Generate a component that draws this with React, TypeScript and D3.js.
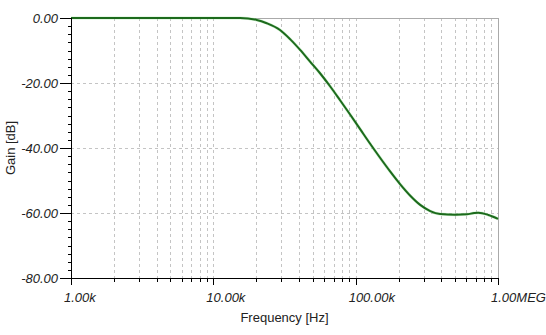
import React from "react";
import * as d3 from "d3";

const freqHz = [1000, 5000, 10000, 15400, 20200, 23700, 29400, 34600, 40700, 47800, 56200, 66100, 77700, 91400, 107500, 126400, 148400, 174600, 205000, 241000, 284000, 334000, 392000, 501000, 603000, 680000, 728000, 857000, 1000000];
const gainDb = [0, 0, 0, 0, -0.6, -1.6, -3.7, -6.5, -9.8, -13.4, -17.0, -21.0, -25.3, -29.7, -34.2, -38.7, -43.0, -47.2, -51.1, -54.6, -57.5, -59.4, -60.3, -60.5, -60.4, -60.0, -59.9, -60.6, -61.8];

const xTickValues = [1e3, 1e4, 1e5, 1e6];
const xTickLabels = ["1.00k", "10.00k", "100.00k", "1.00MEG"];
const yTickValues = [0, -20, -40, -60, -80];
const yTickLabels = ["0.00", "-20.00", "-40.00", "-60.00", "-80.00"];
const xTitle = "Frequency [Hz]";
const yTitle = "Gain [dB]";

const W = 546;
const H = 335;
const M = { left: 71, right: 498, top: 18, bottom: 278 };

export default function App() {
  const x = d3.scaleLog().domain([1e3, 1e6]).range([M.left, M.right]);
  const y = d3.scaleLinear().domain([-80, 0]).range([M.bottom, M.top]);

  const minorX: number[] = [];
  for (let d = 1e3; d < 1e6; d *= 10) {
    for (let k = 2; k <= 9; k++) minorX.push(d * k);
  }
  const minorY = d3.range(-80, 0.001, 2.5);

  const line = d3
    .line<number>()
    .x((_, i) => x(freqHz[i]))
    .y((d) => y(d))
    .curve(d3.curveMonotoneX);

  const font = "Arial, 'Liberation Sans', sans-serif";
  const grid = "#c4c4c4";

  return (
    <svg
      width={W}
      height={H}
      style={{ position: "absolute", left: 0, top: 0, background: "#fff" }}
    >
      <rect x={0} y={0} width={W} height={H} fill="#fff" />
      {/* vertical grid */}
      {[...minorX, 1e4, 1e5].map((v, i) => (
        <line
          key={"gx" + i}
          x1={Math.round(x(v)) + 0.5}
          x2={Math.round(x(v)) + 0.5}
          y1={M.top}
          y2={M.bottom}
          stroke={grid}
          strokeDasharray="3,3"
          strokeWidth={1}
        />
      ))}
      {/* horizontal grid */}
      {yTickValues.slice(1, -1).map((v, i) => (
        <line
          key={"gy" + i}
          x1={M.left}
          x2={M.right}
          y1={Math.round(y(v)) + 0.5}
          y2={Math.round(y(v)) + 0.5}
          stroke={grid}
          strokeDasharray="3,3"
          strokeWidth={1}
        />
      ))}
      {/* frame top/right */}
      <line x1={M.left} x2={M.right + 0.5} y1={M.top + 0.5} y2={M.top + 0.5} stroke="#aaa" />
      <line x1={M.right + 0.5} x2={M.right + 0.5} y1={M.top} y2={M.bottom} stroke="#aaa" />

      {/* curve */}
      <path d={line(gainDb) || ""} fill="none" stroke="#9be39b" strokeWidth={3} strokeOpacity={0.45} />
      <path d={line(gainDb) || ""} fill="none" stroke="#1c6a1c" strokeWidth={2} />

      {/* axes */}
      <line x1={M.left + 0.5} x2={M.left + 0.5} y1={M.top} y2={M.bottom + 0.5} stroke="#000" />
      <line x1={M.left} x2={M.right + 1} y1={M.bottom + 0.5} y2={M.bottom + 0.5} stroke="#000" />

      {/* y ticks */}
      {minorY.map((v, i) => (
        <line
          key={"my" + i}
          x1={M.left - 3}
          x2={M.left}
          y1={Math.round(y(v)) + 0.5}
          y2={Math.round(y(v)) + 0.5}
          stroke="#000"
        />
      ))}
      {yTickValues.map((v, i) => (
        <g key={"ty" + i}>
          <line
            x1={M.left - 11}
            x2={M.left}
            y1={Math.round(y(v)) + 0.5}
            y2={Math.round(y(v)) + 0.5}
            stroke="#000"
          />
          <text
            x={M.left - 13}
            y={y(v) + 4.5}
            textAnchor="end"
            fontFamily={font}
            fontStyle="italic"
            fontSize={13}
            fill="#222"
          >
            {yTickLabels[i]}
          </text>
        </g>
      ))}

      {/* x ticks */}
      {minorX.map((v, i) => (
        <line
          key={"mx" + i}
          x1={Math.round(x(v)) + 0.5}
          x2={Math.round(x(v)) + 0.5}
          y1={M.bottom}
          y2={M.bottom + 4}
          stroke="#000"
        />
      ))}
      {xTickValues.map((v, i) => (
        <g key={"tx" + i}>
          <line
            x1={Math.round(x(v)) + 0.5}
            x2={Math.round(x(v)) + 0.5}
            y1={M.bottom}
            y2={M.bottom + 7}
            stroke="#000"
          />
          <text
            x={x(v) - 7}
            y={302}
            textAnchor="start"
            fontFamily={font}
            fontStyle="italic"
            fontSize={13}
            fill="#222"
          >
            {xTickLabels[i]}
          </text>
        </g>
      ))}

      {/* titles */}
      <text
        x={(M.left + M.right) / 2}
        y={322}
        textAnchor="middle"
        fontFamily={font}
        fontSize={13}
        fill="#222"
      >
        {xTitle}
      </text>
      <text
        transform={`translate(15,${(M.top + M.bottom) / 2}) rotate(-90)`}
        textAnchor="middle"
        fontFamily={font}
        fontSize={13}
        fill="#222"
      >
        {yTitle}
      </text>
    </svg>
  );
}
